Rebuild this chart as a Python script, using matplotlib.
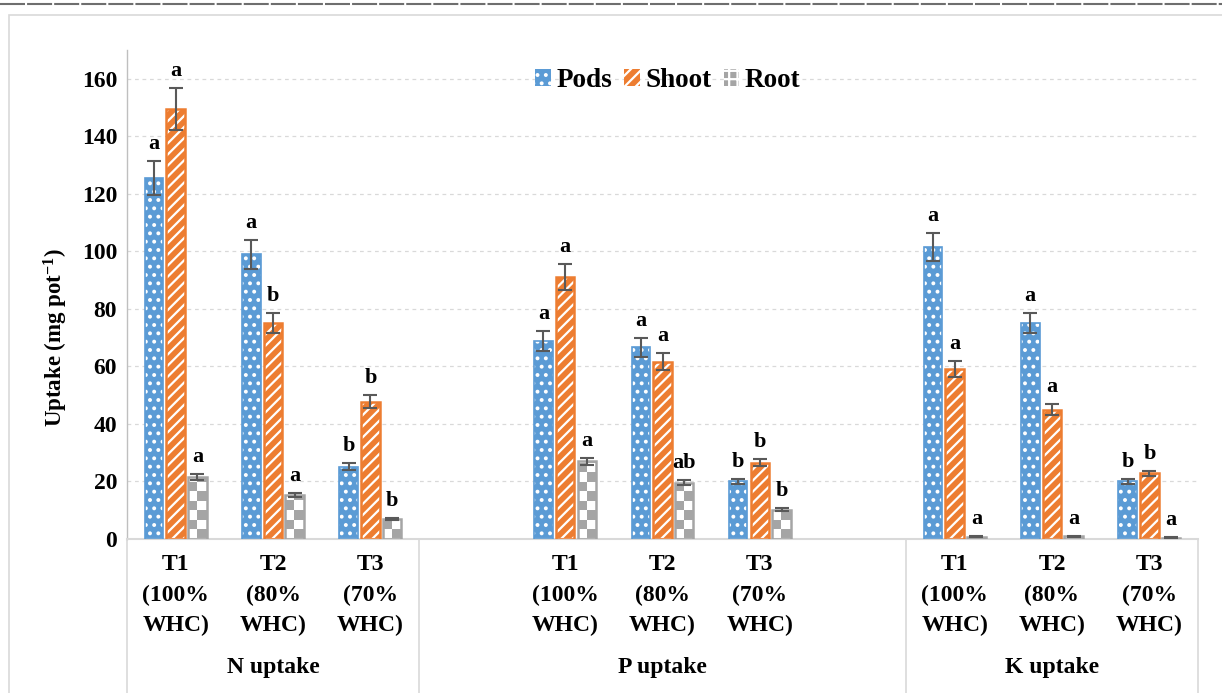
import numpy as np
import matplotlib.pyplot as plt
from matplotlib.colors import ListedColormap
from matplotlib.lines import Line2D
from matplotlib.patches import Patch, Rectangle
from matplotlib.transforms import blended_transform_factory

plt.rcParams["font.family"] = ["Liberation Serif", "DejaVu Serif"]
plt.rcParams["font.weight"] = "bold"
plt.rcParams["hatch.linewidth"] = 1.6

# ---- data ----------------------------------------------------------------
groups = ["N uptake", "P uptake", "K uptake"]
treatments = ["T1\n(100%\nWHC)", "T2\n(80%\nWHC)", "T3\n(70%\nWHC)"]
series = ["Pods", "Shoot", "Root"]

# one row per group, one column per treatment
pods = [[125.5, 99.0, 25.2], [68.7, 66.7, 20.0], [101.5, 75.2, 20.0]]
shoot = [[149.5, 75.0, 47.8], [91.0, 61.6, 26.6], [59.2, 45.0, 22.8]]
root = [[21.5, 15.3, 7.0], [27.0, 19.6, 10.2], [0.8, 1.0, 0.5]]

pods_err = [[6.0, 5.0, 1.2], [3.5, 3.3, 1.0], [4.8, 3.5, 1.0]]
shoot_err = [[7.2, 3.5, 2.3], [4.5, 3.0, 1.2], [2.8, 2.0, 1.0]]
root_err = [[1.0, 0.7, 0.4], [1.2, 0.9, 0.5], [0.15, 0.15, 0.1]]

pods_letters = [["a", "a", "b"], ["a", "a", "b"], ["a", "a", "b"]]
shoot_letters = [["a", "b", "b"], ["a", "a", "b"], ["a", "a", "b"]]
root_letters = [["a", "a", "b"], ["a", "ab", "b"], ["a", "a", "a"]]

# category slots on the x axis (P uptake has an empty slot on each side)
slots = [[0, 1, 2], [4, 5, 6], [8, 9, 10]]
group_spans = [(-0.5, 2.5), (2.5, 7.5), (7.5, 10.5)]

BLUE = "#5B9BD5"
ORANGE = "#ED7D31"
GREY = "#A5A5A5"
ERR = "#595959"

fig = plt.figure(figsize=(12.22, 6.93), dpi=100)
ax = fig.add_axes([0.1039, 0.2222, 0.8765, 0.7056])

width = 0.19
offsets = [-0.223, 0.0, 0.223]
checker_cmap = ListedColormap(["white", GREY])


def letter(x, top, text):
    ax.annotate(text, (x, top), xytext=(0, 5), textcoords="offset points",
                ha="center", va="bottom", fontsize=16, fontweight="bold")


for g in range(3):
    xs = np.array(slots[g], dtype=float)

    # Pods: blue with white dots
    xp = xs + offsets[0]
    ax.bar(xp, pods[g], width, color=BLUE, edgecolor="white", hatch="..",
           linewidth=0, zorder=2)
    ax.bar(xp, pods[g], width, fill=False, edgecolor=BLUE, linewidth=1.2, zorder=3)

    # Shoot: orange with white diagonal stripes
    xsh = xs + offsets[1]
    ax.bar(xsh, shoot[g], width, color=ORANGE, edgecolor="white", hatch="///",
           linewidth=0, zorder=2)
    ax.bar(xsh, shoot[g], width, fill=False, edgecolor=ORANGE, linewidth=1.8, zorder=3)

    # Root: grey checkerboard inside a grey outline
    xr = xs + offsets[2]
    bars = ax.bar(xr, root[g], width, color="white", linewidth=0, zorder=2)
    ax.bar(xr, root[g], width, fill=False, edgecolor=GREY, linewidth=1.8, zorder=3)
    cell = 3.3
    for b, h in zip(bars, root[g]):
        nrow = int(np.ceil(h / cell)) + 1
        pattern = (np.add.outer(np.arange(nrow), np.arange(2)) % 2)[::-1]
        img = ax.imshow(pattern, cmap=checker_cmap, vmin=0, vmax=1,
                        extent=(b.get_x(), b.get_x() + width, 0, nrow * cell),
                        aspect="auto", interpolation="nearest", zorder=2.5)
        clip = Rectangle((b.get_x(), 0), width, h, transform=ax.transData)
        img.set_clip_path(clip)

    for xv, vals, errs in ((xp, pods[g], pods_err[g]),
                           (xsh, shoot[g], shoot_err[g]),
                           (xr, root[g], root_err[g])):
        ax.errorbar(xv, vals, yerr=errs, fmt="none", ecolor=ERR,
                    elinewidth=1.5, capsize=5, capthick=1.5, zorder=4)

    for i in range(3):
        letter(xp[i], pods[g][i] + pods_err[g][i], pods_letters[g][i])
        letter(xsh[i], shoot[g][i] + shoot_err[g][i], shoot_letters[g][i])
        letter(xr[i], root[g][i] + root_err[g][i], root_letters[g][i])

# axes styling
ax.set_xlim(-0.5, 10.5)
ax.set_ylim(0, 170)
ax.set_yticks(np.arange(0, 161, 20))
ax.tick_params(axis="y", length=0, pad=7, labelsize=17)
ax.set_xticks([])
ax.yaxis.grid(True, linestyle=(0, (3, 3)), color="#D9D9D9", linewidth=0.9)
ax.set_axisbelow(True)
for side in ("top", "right"):
    ax.spines[side].set_visible(False)
ax.spines["left"].set_color("#BFBFBF")
ax.spines["bottom"].set_color("#D9D9D9")
ax.spines["left"].set_linewidth(1.0)
ax.spines["bottom"].set_linewidth(1.5)
ax.set_ylabel("Uptake (mg pot$\\mathregular{^{-1}}$)", fontsize=16.5,
              fontweight="bold")
ax.yaxis.set_label_coords(-0.053, 0.413)

# two-level category axis below the plot
trans = blended_transform_factory(ax.transData, ax.transAxes)
for g, (lo, hi) in enumerate(group_spans):
    for s, lab in zip(slots[g], treatments):
        ax.text(s, -0.03, lab, transform=trans, ha="center", va="top",
                fontsize=17, fontweight="bold", linespacing=1.6)
    ax.text((lo + hi) / 2, -0.262, groups[g], transform=trans, ha="center",
            va="center", fontsize=17, fontweight="bold")
for xv in (-0.5, 2.5, 7.5, 10.5):
    ax.add_line(Line2D([xv, xv], [0, -0.32], transform=trans, color="#D9D9D9",
                       linewidth=1.2, clip_on=False))

# legend
handles = [
    Patch(facecolor=BLUE, edgecolor="white", hatch="..", linewidth=0),
    Patch(facecolor=ORANGE, edgecolor="white", hatch="///", linewidth=0),
    Patch(facecolor=GREY, edgecolor="white", hatch="++", linewidth=0),
]
ax.legend(handles, series, loc="center", bbox_to_anchor=(0.505, 0.937),
          ncol=3, frameon=False, handlelength=0.58,
          handleheight=0.58, handletextpad=0.2, columnspacing=0.45,
          prop={"weight": "bold", "size": 19.5})

# page frame around the chart
fig.add_artist(Line2D([0, 1], [1 - 4 / 693, 1 - 4 / 693], transform=fig.transFigure,
                      color="#6E6E6E", linewidth=1.5, linestyle=(0, (12, 1))))
fig.add_artist(Rectangle((9 / 1222, -0.01), 1.02, 1 - 15 / 693 + 0.01,
                         transform=fig.transFigure, fill=False,
                         edgecolor="#D9D9D9", linewidth=1.2))

fig.savefig("out.png", dpi=100)
